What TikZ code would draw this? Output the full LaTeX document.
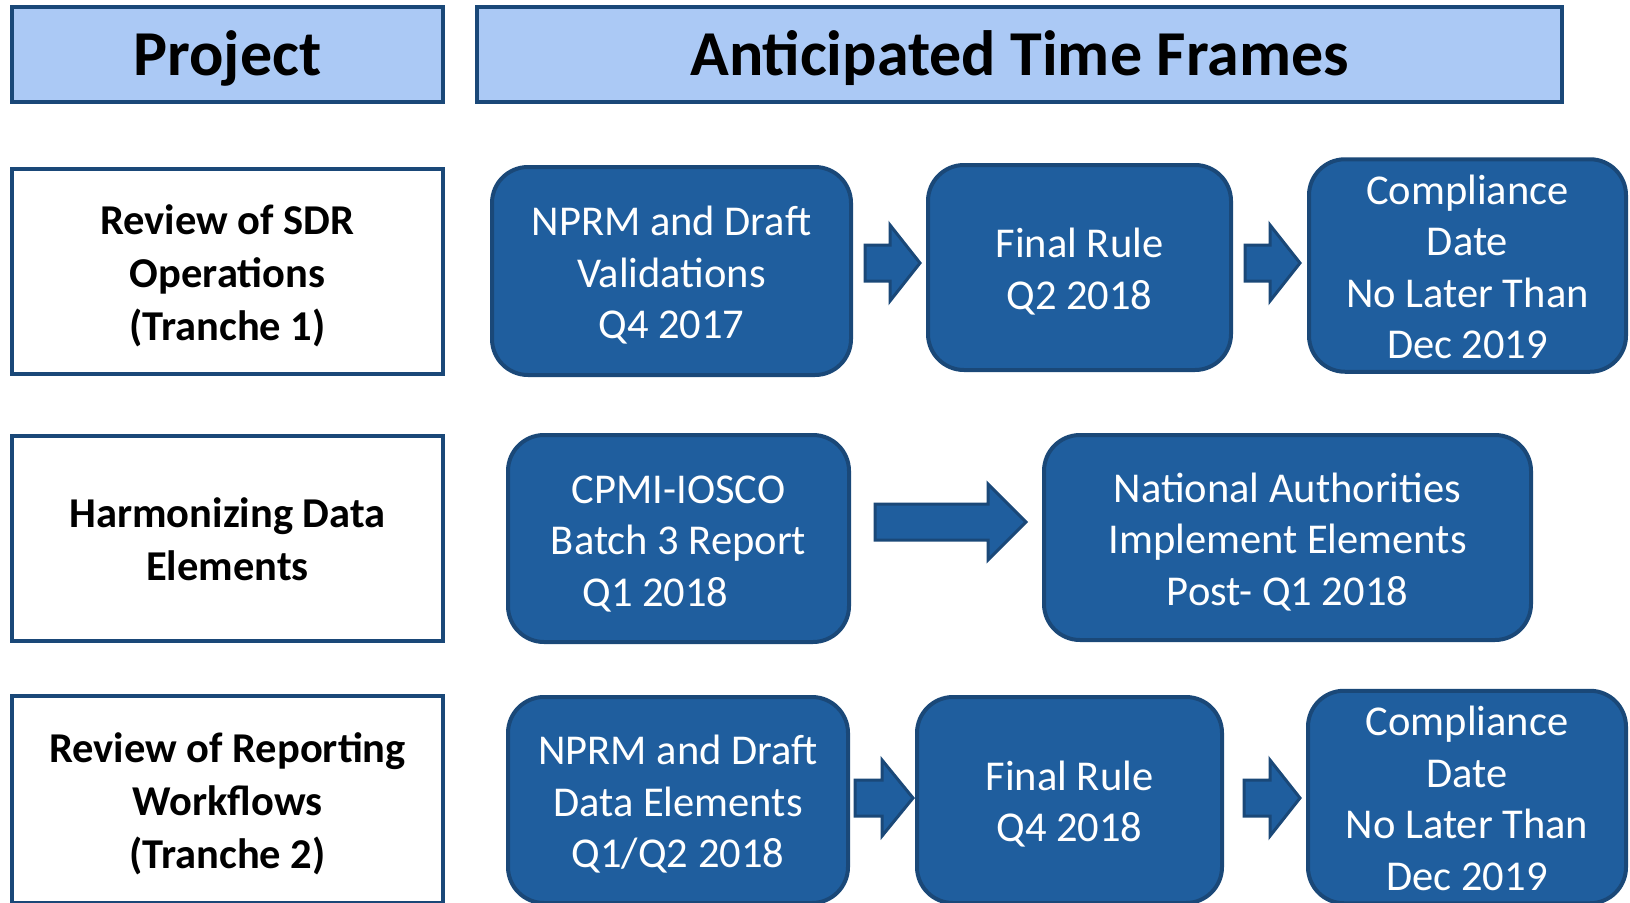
\documentclass[tikz,border=0pt]{standalone}
\usepackage{fontspec}
\setmainfont{Carlito}
\usetikzlibrary{positioning}
\usetikzlibrary{calc}

\definecolor{stepblue}{RGB}{31,94,158}
\definecolor{edgeblue}{RGB}{26,72,120}
\definecolor{headblue}{RGB}{171,201,245}

\newcommand{\hstrut}{\rule[-17pt]{0pt}{75pt}}
\newcommand{\ts}{\rule{0pt}{45pt}}
\newcommand{\botstrut}{\rule[-13pt]{0pt}{13pt}}

\tikzset{
 header/.style={draw=edgeblue, fill=headblue, line width=4.5pt, minimum height=95pt, inner sep=0pt,
                font=\fontsize{64}{76}\selectfont\bfseries, execute at begin node=\hstrut},
 project/.style={draw=edgeblue, fill=white, line width=4pt, minimum width=431pt, minimum height=205pt,
                 align=center, inner sep=0pt, font=\fontsize{42.5}{53}\selectfont\bfseries,
                 execute at end node=\botstrut},
 milestone/.style={draw=edgeblue, fill=stepblue, text=white, line width=4pt, rounded corners=36pt,
                   align=center, inner sep=0pt, font=\fontsize{42.5}{51.5}\selectfont,
                   execute at end node=\botstrut},
 fatarrow/.style={draw=edgeblue, fill=stepblue, line width=3pt, line join=miter,
                  to path={let \p1=(\tikztostart), \p2=(\tikztotarget) in
                           (\x1,\y1+18pt) -- (\x2-#1,\y1+18pt) -- (\x2-#1,\y1+38pt) -- (\x2,\y1)
                           -- (\x2-#1,\y1-38pt) -- (\x2-#1,\y1-18pt) -- (\x1,\y1-18pt) -- cycle}},
}

\begin{document}
\begin{tikzpicture}[x=1pt, y=-1pt]
 \useasboundingbox (0,0) rectangle (1630,902);

 \node[header, minimum width=431pt,  name=hproj] at (227.5,54.5)  {Project};
 \node[header, minimum width=1085pt, name=htime] at (1019.5,54.5) {Anticipated Time Frames};

 \node[project, name=proj1] at (227.5,271) {\ts Review of SDR\\Operations\\(Tranche 1)};
 \node[project, name=proj2] at (227.5,538) {\ts Harmonizing Data\\Elements};
 \node[project, minimum height=207pt, name=proj3] at (227.5,799) {\ts Review of Reporting\\Workflows\\(Tranche 2)};

 % tranche 1
 \node[milestone, minimum width=359pt, minimum height=208pt, name=nprm1] at (671.5,271)  {\ts NPRM and Draft\\Validations\\Q4 2017};
 \node[milestone, minimum width=303pt, minimum height=205pt, name=rule1] at (1079.5,267.5) {\ts Final Rule\\Q2 2018};
 \node[milestone, minimum width=317pt, minimum height=201pt, name=comp1] at (1467.5,265.5) {\ts Compliance\\Date\\No Later Than\\Dec 2019};

 % data elements
 \node[milestone, minimum width=341pt, minimum height=207pt, name=cpmi] at (678.5,538.5)  {\ts CPMI-IOSCO\\Batch 3 Report\\Q1 2018\hspace*{46pt}};
 \node[milestone, minimum width=487pt, minimum height=205pt, name=natl] at (1287.5,537.5) {\ts National Authorities\\Implement Elements\\Post- Q1 2018};

 % tranche 2
 \node[milestone, minimum width=340pt, minimum height=206pt, name=nprm2] at (678,800)    {\ts NPRM and Draft\\Data Elements\\Q1/Q2 2018};
 \node[milestone, minimum width=305pt, minimum height=206pt, name=rule2] at (1069.5,800) {\ts Final Rule\\Q4 2018};
 \node[milestone, minimum width=318pt, minimum height=201pt, name=comp2] at (1467,797)   {\ts Compliance\\Date\\No Later Than\\Dec 2019};

 \draw[fatarrow=30pt] ([xshift=12pt,yshift=8pt]nprm1.east)  to ([xshift=-6pt]rule1.west);
 \draw[fatarrow=30pt] ([xshift=12pt,yshift=4.5pt]rule1.east) to ([xshift=-7pt]comp1.west);
 \draw[fatarrow=38pt] ([xshift=24pt,yshift=16.5pt]cpmi.east) to ([xshift=-16pt]natl.west);
 \draw[fatarrow=31pt] ([xshift=5pt,yshift=2pt]nprm2.east)    to ([xshift=-2pt]rule2.west);
 \draw[fatarrow=30pt] ([xshift=20pt,yshift=2pt]rule2.east)   to ([xshift=-6pt]comp2.west);
\end{tikzpicture}
\end{document}
